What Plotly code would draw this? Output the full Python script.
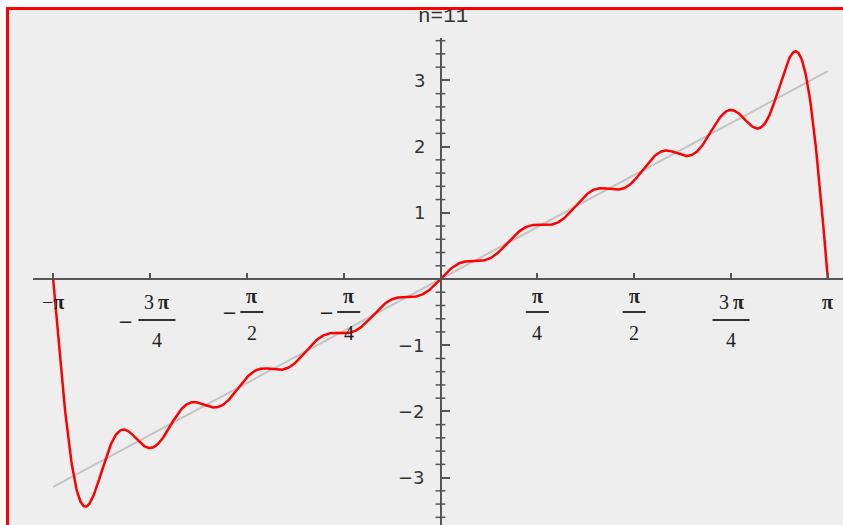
import numpy as np
import plotly.graph_objects as go

PI = np.pi
# Fourier sine coefficients of the partial sum (n = 11) shown in red
coef = [2.0, -1.0, 0.6667, -0.5, 0.4, -0.3333, 0.2857, -0.25, 0.2222, -0.2, 0.1818]
title_text = "n=11"

# x tick labels (multiples of pi/4)
tick_vals = [-PI, -3 * PI / 4, -PI / 2, -PI / 4, PI / 4, PI / 2, 3 * PI / 4, PI]
tick_num = ["π", "3π", "π", "π", "π", "π", "3π", "π"]
tick_den = ["", "4", "2", "4", "4", "2", "4", ""]
tick_neg = [True, True, True, True, False, False, False, False]

# y tick labels
ytick_vals = [-3, -2, -1, 1, 2, 3]
ytick_text = ["−3", "−2", "−1", "1", "2", "3"]

x = np.linspace(-PI, PI, 1201)
s = np.zeros_like(x)
for k, b in enumerate(coef, start=1):
    s += b * np.sin(k * x)

W, H = 843, 525
x0px, sx = 440.5, 123.3
y0px, sy = 279.0, 66.2
xl, xr = 33.0, 843.0
yt, yb = 38.0, 525.0
xrange_ = [(xl - x0px) / sx, (xr - x0px) / sx]
yrange_ = [(y0px - yb) / sy, (y0px - yt) / sy]

AX = "#555555"
fig = go.Figure()
fig.add_trace(go.Scatter(x=[-PI, PI], y=[-PI, PI], mode="lines",
                         line=dict(color="#c4c4c4", width=2), hoverinfo="skip"))
fig.add_trace(go.Scatter(x=x, y=s, mode="lines",
                         line=dict(color="#ff0000", width=2.5), hoverinfo="skip"))
# minor ticks on the y axis (cross both sides)
minor = [v / 5 for v in range(-18, 19) if v % 5 != 0]
fig.add_trace(go.Scatter(x=[0] * len(minor), y=minor, mode="markers",
                         marker=dict(symbol="line-ew", size=7,
                                     line=dict(color=AX, width=1.5)),
                         hoverinfo="skip", cliponaxis=False))

ann = []
shapes = []
serif = dict(family="Liberation Serif", size=20, color="#222222")
minus_font = dict(family="DejaVu Sans", size=18, color="#222222")


def pi_bold(t):
    return t.replace("π", "<b>π</b>")


for v, num, den, neg in zip(tick_vals, tick_num, tick_den, tick_neg):
    if den == "":
        ann.append(dict(x=v, y=0, xref="x", yref="y", text=("−" if neg else "") + pi_bold(num),
                        showarrow=False, yshift=-23, font=serif,
                        xanchor="center", yanchor="middle"))
        continue
    big = num == "3π"
    ny, by, dy, my = (-23, -41, -61, -42) if big else (-17, -33, -54, -33)
    bw = 37 if big else 23
    dx = (7 if big else 5) if neg else 0
    ann.append(dict(x=v, y=0, xref="x", yref="y", text=pi_bold(num.replace("3π", "3\u2009π")),
                    showarrow=False, xshift=dx, yshift=ny, font=serif,
                    xanchor="center", yanchor="middle"))
    ann.append(dict(x=v, y=0, xref="x", yref="y", text=den,
                    showarrow=False, xshift=dx, yshift=dy, font=serif,
                    xanchor="center", yanchor="middle"))
    shapes.append(dict(type="line", xref="x", yref="y", xsizemode="pixel",
                       ysizemode="pixel", xanchor=v, yanchor=0,
                       x0=dx - bw / 2, x1=dx + bw / 2, y0=by, y1=by,
                       line=dict(color="#333333", width=2)))
    if neg:
        mx = -24 if big else -17
        ann.append(dict(x=v, y=0, xref="x", yref="y", text="−",
                        showarrow=False, xshift=mx, yshift=my, font=minus_font,
                        xanchor="center", yanchor="middle"))

for v, t in zip(ytick_vals, ytick_text):
    ann.append(dict(x=0, y=v, xref="x", yref="y", text=t, showarrow=False,
                    xanchor="right", yanchor="middle", xshift=-14,
                    font=dict(family="DejaVu Sans", size=18, color="#333333")))

ann.append(dict(x=0, y=1, xref="x", yref="paper", text=title_text, showarrow=False,
                xanchor="center", yanchor="top", xshift=2, yshift=-3,
                font=dict(family="Liberation Mono", size=21, color="#333333")))

# frame: grey panel with red border
shapes.insert(0, dict(type="rect", xref="paper", yref="paper", layer="below",
                      x0=7.5 / W, x1=1.05, y0=-0.05, y1=1 - 8.5 / H,
                      fillcolor="#eeeeee", line=dict(color="#ff0000", width=3)))

fig.update_layout(
    width=W, height=H, margin=dict(l=0, r=0, t=0, b=0),
    paper_bgcolor="white", plot_bgcolor="rgba(0,0,0,0)",
    showlegend=False, annotations=ann, shapes=shapes,
    xaxis=dict(range=xrange_, domain=[xl / W, 1], anchor="free",
               position=(H - y0px) / H, showgrid=False, zeroline=False,
               showline=True, linecolor=AX, linewidth=2,
               tickvals=[0] + tick_vals, ticks="inside", ticklen=5,
               tickwidth=1.5, tickcolor=AX, showticklabels=False, fixedrange=True),
    yaxis=dict(range=yrange_, domain=[0, (H - yt) / H], anchor="free",
               position=x0px / W, showgrid=False, zeroline=False,
               showline=True, linecolor=AX, linewidth=2,
               tickvals=ytick_vals, ticks="inside", ticklen=8,
               tickwidth=1.5, tickcolor=AX, showticklabels=False, fixedrange=True),
)

fig.write_html("out.html", config={"displayModeBar": False},
               post_script="document.body.style.margin='0';document.body.style.overflow='hidden';")
